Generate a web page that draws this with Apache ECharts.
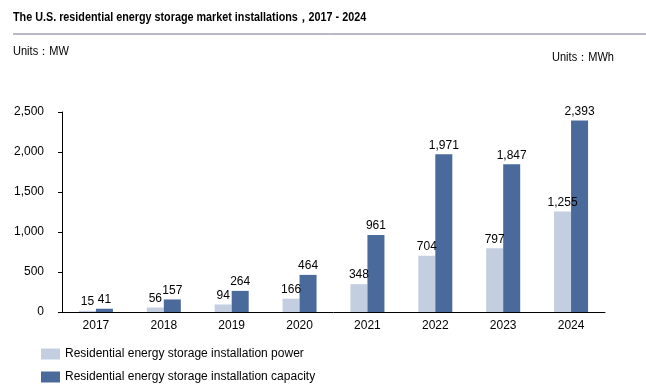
<!DOCTYPE html>
<html><head><meta charset="utf-8">
<script src="https://cdn.jsdelivr.net/npm/echarts@6/dist/echarts.min.js"></script>
<style>html,body{margin:0;padding:0;background:#fff}#c{width:646px;height:391px}</style>
</head><body><div id="c"></div>
<script>
var categories = ['2017','2018','2019','2020','2021','2022','2023','2024'];
var powerMW = [15,56,94,166,348,704,797,1255];
var capacityMWh = [41,157,264,464,961,1971,1847,2393];
var seriesNames = ['Residential energy storage installation power','Residential energy storage installation capacity'];
var titleText = 'The U.S. residential energy storage market installations\uff0c2017 - 2024';

var chart = echarts.init(document.getElementById('c'), null, {renderer:'canvas'});
var lbl = {show:true, position:'top', color:'#000', fontSize:12, fontFamily:'Liberation Sans, Arial', distance:3,
  formatter:function(p){return p.value.toLocaleString('en-US');}};
chart.setOption({
  animation:false,
  textStyle:{fontFamily:'Liberation Sans, Arial'},
  graphic:[
    {type:'text', x:13, y:11, scaleX:0.83, style:{text:titleText, fontSize:13, fontWeight:'bold', fill:'#000', fontFamily:'Liberation Sans, Arial'}},
    {type:'line', shape:{x1:13,y1:34,x2:646,y2:34}, style:{stroke:'#707090', lineWidth:1}},
    {type:'text', x:13, y:46, scaleX:0.92, style:{text:'Units\uff1aMW', fontSize:12, fill:'#000', fontFamily:'Liberation Sans, Arial'}},
    {type:'text', x:552, y:52, scaleX:0.92, style:{text:'Units\uff1aMWh', fontSize:12, fill:'#000', fontFamily:'Liberation Sans, Arial'}}
  ],
  legend:{orient:'vertical', left:41, top:348, itemWidth:19, itemHeight:11, itemGap:11, padding:0, icon:'rect',
    textStyle:{fontSize:12, color:'#000', fontFamily:'Liberation Sans, Arial'}, data:seriesNames},
  grid:{left:62, right:41, top:112, bottom:79, containLabel:false},
  xAxis:{type:'category', data:categories,
    axisLine:{lineStyle:{color:'#000'}}, axisTick:{show:false},
    axisLabel:{color:'#000', fontSize:12, margin:8}},
  yAxis:{type:'value', min:0, max:2500, interval:500,
    axisLine:{show:true, lineStyle:{color:'#000'}}, axisTick:{show:true, length:4, lineStyle:{color:'#000'}},
    splitLine:{show:false},
    axisLabel:{color:'#000', fontSize:12, margin:18, formatter:function(v){return v.toLocaleString('en-US');}}},
  series:[
    {name:seriesNames[0], type:'bar', data:powerMW, barWidth:17, barGap:'0%', itemStyle:{color:'#c3cee0'}, label:lbl},
    {name:seriesNames[1], type:'bar', data:capacityMWh, barWidth:17, barGap:'0%', itemStyle:{color:'#4a6a9c'}, label:lbl}
  ]
});
</script></body></html>
